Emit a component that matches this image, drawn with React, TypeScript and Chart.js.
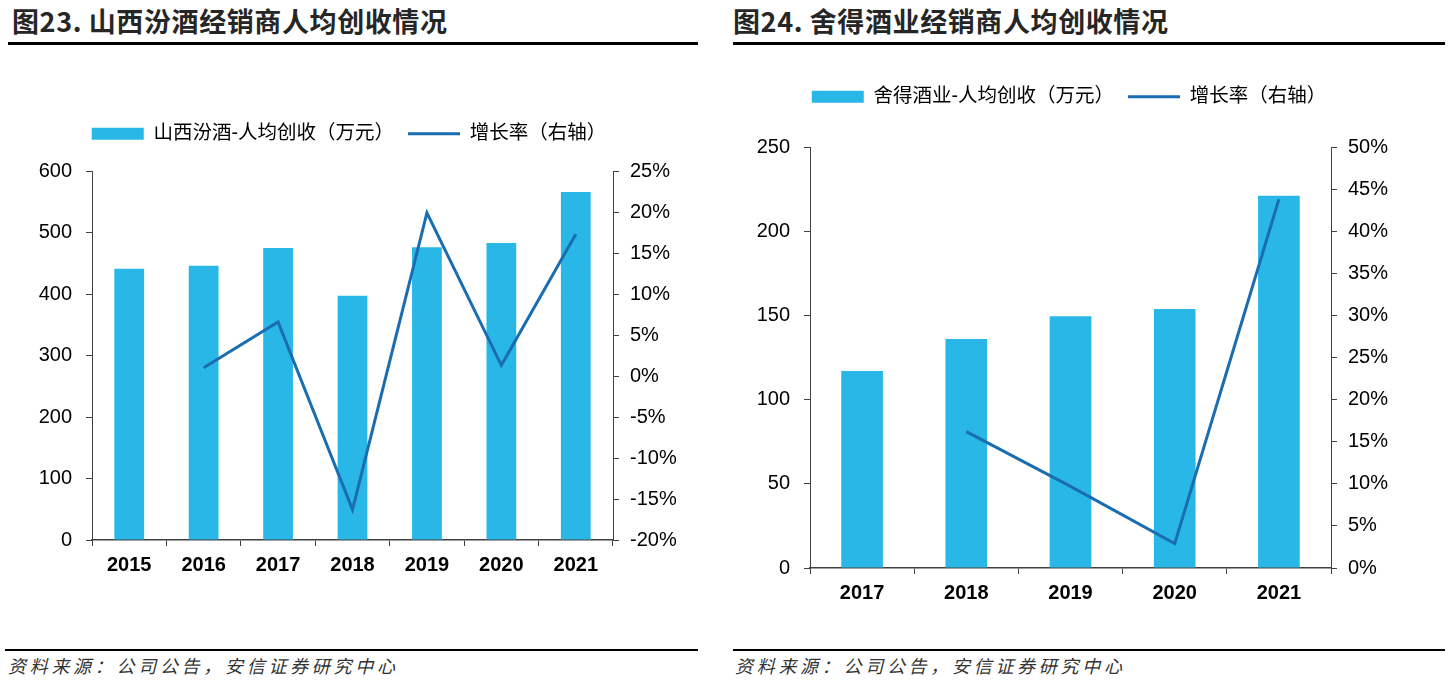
import React, { useEffect, useRef } from 'react';
import { Chart, registerables } from 'chart.js';

Chart.register(...registerables);

// ---- Data ----
const fenjiuYears = ['2015', '2016', '2017', '2018', '2019', '2020', '2021'];
const fenjiuRevenue = [441, 446, 475, 397, 476, 483, 566];
const fenjiuGrowth = [null, 1.0, 6.6, -16.3, 19.9, 1.3, 17.3];

const shedeYears = ['2017', '2018', '2019', '2020', '2021'];
const shedeRevenue = [117, 136, 149.5, 153.8, 221];
const shedeGrowth = [null, 16.2, 9.7, 2.9, 43.8];

const fenjiuLeftRange = [0, 600, 100];
const fenjiuRightRange = [-20, 25, 5];
const shedeLeftRange = [0, 250, 50];
const shedeRightRange = [0, 50, 5];

const fenjiuBarLabel = '山西汾酒-人均创收（万元）';
const shedeBarLabel = '舍得酒业-人均创收（万元）';
const growthLabel = '增长率（右轴）';

const BAR_COLOR = '#29B7E7';
const LINE_COLOR = '#1A6DB0';
const AXIS_COLOR = '#404040';
const FONT = '"Liberation Sans", Arial, "Noto Sans CJK SC", sans-serif';

type Cfg = {
  labels: string[];
  bars: number[];
  growth: (number | null)[];
  barLabel: string;
  left: number[];
  right: number[];
  padding: { left: number; right: number; top: number; bottom: number };
  leftW: number;
  rightW: number;
  legendH: number;
};

function buildConfig(c: Cfg): any {
  const legendPatch = {
    id: 'legendPatch',
    beforeInit(chart: any) {
      const legend = chart.legend;
      if (!legend) return;
      const orig = legend.fit;
      legend.fit = function () {
        orig.call(this);
        this.height = c.legendH;
      };
    },
  };
  return {
    type: 'bar',
    data: {
      labels: c.labels,
      datasets: [
        {
          type: 'bar',
          label: c.barLabel,
          data: c.bars,
          backgroundColor: BAR_COLOR,
          borderWidth: 0,
          barPercentage: 0.4,
          categoryPercentage: 1,
          yAxisID: 'y',
          order: 2,
        },
        {
          type: 'line',
          label: growthLabel,
          data: c.growth,
          borderColor: LINE_COLOR,
          backgroundColor: LINE_COLOR,
          borderWidth: 3,
          pointRadius: 0,
          tension: 0,
          yAxisID: 'y1',
          order: 1,
        },
      ],
    },
    options: {
      responsive: false,
      animation: false,
      layout: { padding: c.padding },
      plugins: {
        tooltip: { enabled: false },
        legend: {
          position: 'top',
          labels: {
            usePointStyle: true,
            pointStyleWidth: 52,
            boxHeight: 12,
            padding: 14,
            color: '#000',
            font: { family: FONT, size: 19.5 },
            generateLabels: (chart: any) => {
              const items = (Chart as any).defaults.plugins.legend.labels.generateLabels(chart);
              items.sort((a: any, b: any) => a.datasetIndex - b.datasetIndex);
              items.forEach((it: any) => {
                if (it.datasetIndex === 0) {
                  it.pointStyle = 'rect';
                  it.lineWidth = 0;
                  it.fillStyle = BAR_COLOR;
                } else {
                  it.pointStyle = 'line';
                  it.lineWidth = 3;
                  it.strokeStyle = LINE_COLOR;
                }
              });
              return items;
            },
          },
        },
      },
      scales: {
        x: {
          grid: { offset: true, drawOnChartArea: false, drawTicks: true, tickLength: 6, color: AXIS_COLOR },
          border: { color: AXIS_COLOR, width: 1.5 },
          ticks: { color: '#000', padding: 7, font: { family: FONT, size: 20, weight: 'bold' } },
          afterFit: (s: any) => {
            s.height = 40;
          },
        },
        y: {
          position: 'left',
          min: c.left[0],
          max: c.left[1],
          grid: { drawOnChartArea: false, drawTicks: true, tickLength: 6, color: AXIS_COLOR },
          border: { color: AXIS_COLOR, width: 1 },
          ticks: { stepSize: c.left[2], color: '#000', padding: 14, font: { family: FONT, size: 20 } },
          afterFit: (s: any) => {
            s.width = c.leftW;
          },
        },
        y1: {
          position: 'right',
          min: c.right[0],
          max: c.right[1],
          grid: { drawOnChartArea: false, drawTicks: true, tickLength: 6, color: AXIS_COLOR },
          border: { color: AXIS_COLOR, width: 1 },
          ticks: {
            stepSize: c.right[2],
            color: '#000',
            padding: 11,
            font: { family: FONT, size: 20 },
            callback: (v: any) => `${v}%`,
          },
          afterFit: (s: any) => {
            s.width = c.rightW;
          },
        },
      },
    },
    plugins: [legendPatch],
  };
}

function ChartBox({ left, top, width, height, cfg }: { left: number; top: number; width: number; height: number; cfg: Cfg }) {
  const ref = useRef<HTMLCanvasElement>(null);
  useEffect(() => {
    if (!ref.current) return;
    const chart = new Chart(ref.current, buildConfig(cfg));
    return () => chart.destroy();
  }, []);
  return (
    <canvas
      ref={ref}
      width={width}
      height={height}
      style={{ position: 'absolute', left, top, width, height }}
    />
  );
}

const titleStyle: React.CSSProperties = {
  position: 'absolute',
  top: 5,
  fontFamily: '"Noto Sans CJK SC", sans-serif',
  fontWeight: 700,
  fontSize: 27,
  letterSpacing: 0.6,
  lineHeight: '32px',
  color: '#262626',
  whiteSpace: 'nowrap',
};

const sourceStyle: React.CSSProperties = {
  position: 'absolute',
  top: 653,
  fontFamily: '"Noto Sans CJK SC", sans-serif',
  fontStyle: 'italic',
  fontSize: 18,
  letterSpacing: 3.7,
  lineHeight: '24px',
  color: '#333',
  whiteSpace: 'nowrap',
};

export default function App() {
  const leftCfg: Cfg = {
    labels: fenjiuYears,
    bars: fenjiuRevenue,
    growth: fenjiuGrowth,
    barLabel: fenjiuBarLabel,
    left: fenjiuLeftRange,
    right: fenjiuRightRange,
    padding: { left: 0, right: 22, top: 50, bottom: 20 },
    leftW: 92,
    rightW: 85,
    legendH: 61,
  };
  const rightCfg: Cfg = {
    labels: shedeYears,
    bars: shedeRevenue,
    growth: shedeGrowth,
    barLabel: shedeBarLabel,
    left: shedeLeftRange,
    right: shedeRightRange,
    padding: { left: 0, right: 33, top: 33, bottom: 12 },
    leftW: 90,
    rightW: 87,
    legendH: 74,
  };
  return (
    <div style={{ position: 'absolute', left: 0, top: 0, width: 1451, height: 696, background: '#fff', overflow: 'hidden' }}>
      <div style={{ ...titleStyle, left: 12 }}>图23. 山西汾酒经销商人均创收情况</div>
      <div style={{ position: 'absolute', left: 8, top: 42, width: 690, height: 3, background: '#000' }} />
      <div style={{ ...titleStyle, left: 733 }}>图24. 舍得酒业经销商人均创收情况</div>
      <div style={{ position: 'absolute', left: 733, top: 42, width: 712, height: 3, background: '#000' }} />

      <ChartBox left={0} top={60} width={720} height={540} cfg={leftCfg} />
      <ChartBox left={720} top={40} width={731} height={580} cfg={rightCfg} />

      <div style={{ position: 'absolute', left: 5, top: 649, width: 693, height: 2, background: '#000' }} />
      <div style={{ position: 'absolute', left: 733, top: 649, width: 712, height: 2, background: '#000' }} />
      <div style={{ ...sourceStyle, left: 8 }}>资料来源：公司公告，安信证券研究中心</div>
      <div style={{ ...sourceStyle, left: 735 }}>资料来源：公司公告，安信证券研究中心</div>
    </div>
  );
}
